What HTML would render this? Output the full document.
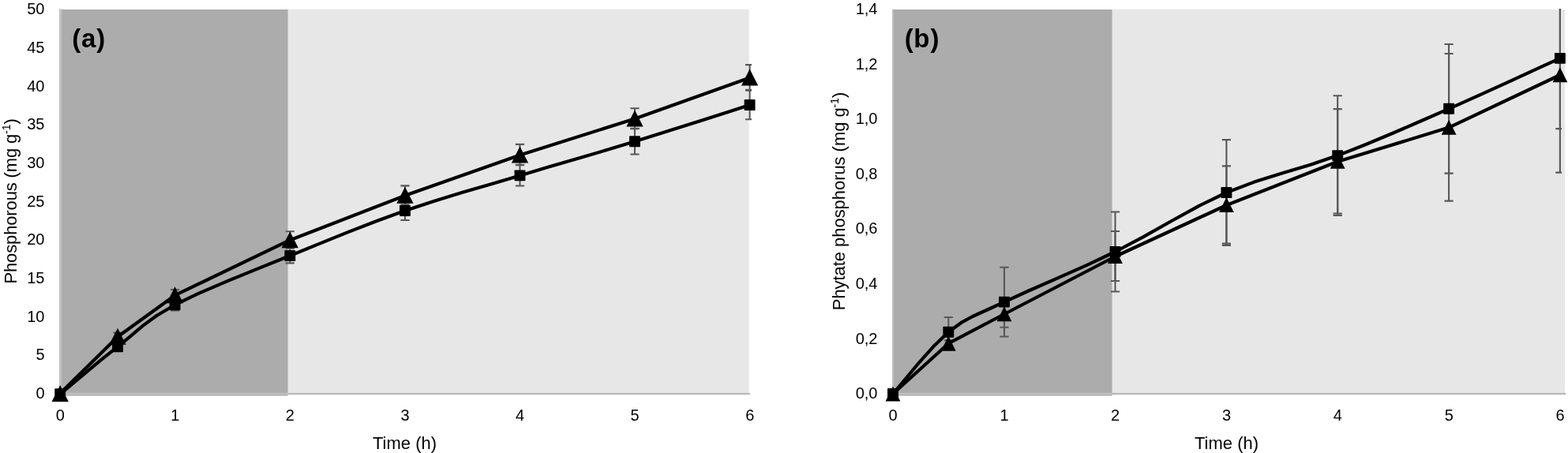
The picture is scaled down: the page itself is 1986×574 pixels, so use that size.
<!DOCTYPE html>
<html lang="en"><head><meta charset="utf-8"><title>Phosphorous and phytate phosphorus release over time</title>
<style>html,body{margin:0;padding:0;background:#fff}body{width:1986px;height:574px;overflow:hidden}svg{display:block}text{font-family:"Liberation Sans", Arial, Helvetica, sans-serif;fill:#000}</style>
</head><body>
<svg width="1986" height="574" viewBox="0 0 1986 574">
<rect width="1986" height="574" fill="#fff"/>
<g id="plot-a">
<rect x="364.65" y="498" width="584.1" height="3" fill="#f3f3f3"/>
<rect x="75.3" y="12" width="873.45" height="486" fill="#e7e7e7"/>
<rect x="75.3" y="12" width="289.35" height="489.5" fill="#acacac"/>
<rect x="364.65" y="497.85" width="585.3" height="2.2" fill="#bababa"/>
<rect x="75.3" y="497.85" width="289.35" height="2.2" fill="#c1c1c1"/>
<rect x="75.3" y="11.3" width="2.9" height="488.75" fill="#c1c1c1"/>
<clipPath id="clip-a"><rect x="65.3" y="11.1" width="886.7" height="506"/></clipPath>
<g clip-path="url(#clip-a)" stroke="#585858" stroke-width="2.1" fill="none">
<path d="M149 421.6V430.8M143.4 421.6H154.6M143.4 430.8H154.6"/>
<path d="M221.6 367V380.4M216 367H227.2M216 380.4H227.2"/>
<path d="M367.3 293.2V314.2M361.7 293.2H372.9M361.7 314.2H372.9"/>
<path d="M513 235.4V259.2M507.4 235.4H518.6M507.4 259.2H518.6"/>
<path d="M658.5 182.9V208.9M652.9 182.9H664.1M652.9 208.9H664.1"/>
<path d="M804 137.2V162.8M798.4 137.2H809.6M798.4 162.8H809.6"/>
<path d="M949.6 82.1V113.7M944 82.1H955.2M944 113.7H955.2"/>
<path d="M149 433.8V444.8M143.4 433.8H154.6M143.4 444.8H154.6"/>
<path d="M221.6 378.9V393.5M216 378.9H227.2M216 393.5H227.2"/>
<path d="M367.3 314.6V333.4M361.7 314.6H372.9M361.7 333.4H372.9"/>
<path d="M513 255V279M507.4 255H518.6M507.4 279H518.6"/>
<path d="M658.5 209.3V235.5M652.9 209.3H664.1M652.9 235.5H664.1"/>
<path d="M804 163.1V195.5M798.4 163.1H809.6M798.4 195.5H809.6"/>
<path d="M949.6 114.7V151.3M944 114.7H955.2M944 151.3H955.2"/>
</g>
<path d="M76.2 499.2 L89.29 488.28 L108.06 472.57 L129.11 455.2 L149 439.3 L165.45 425.76 L180.74 412.89 L198.31 399.96 L221.6 386.2 L252.89 371.17 L289.88 355.34 L329.16 339.4 L367.3 324 L403.73 309.09 L440.16 294.4 L476.59 280.26 L513 267 L549.39 254.94 L585.76 243.83 L622.13 233.15 L658.5 222.4 L694.87 211.59 L731.24 200.96 L767.62 190.26 L804 179.3 L843.81 166.86 L885.89 153.46 L923.44 141.39 L949.6 133" fill="none" stroke="#000" stroke-width="4.2" stroke-linejoin="round" stroke-linecap="round"/>
<path d="M76.2 498.5 L149 426.7 L221.6 374.2 L367.3 304.2 L513 247.8 L658.5 196.4 L804 150.5 L949.6 98.4" fill="none" stroke="#000" stroke-width="4.2" stroke-linejoin="round" stroke-linecap="round"/>
<rect x="69.25" y="492.25" width="13.9" height="13.9" rx="0.8" fill="#000"/>
<rect x="142.05" y="432.35" width="13.9" height="13.9" rx="0.8" fill="#000"/>
<rect x="214.65" y="379.25" width="13.9" height="13.9" rx="0.8" fill="#000"/>
<rect x="360.35" y="317.05" width="13.9" height="13.9" rx="0.8" fill="#000"/>
<rect x="506.05" y="260.05" width="13.9" height="13.9" rx="0.8" fill="#000"/>
<rect x="651.55" y="215.45" width="13.9" height="13.9" rx="0.8" fill="#000"/>
<rect x="797.05" y="172.35" width="13.9" height="13.9" rx="0.8" fill="#000"/>
<rect x="942.65" y="126.05" width="13.9" height="13.9" rx="0.8" fill="#000"/>
<path d="M76.2 488L86.85 509L65.55 509Z" fill="#000"/>
<path d="M149 415.7L159.65 436.7L138.35 436.7Z" fill="#000"/>
<path d="M221.6 363.2L232.25 384.2L210.95 384.2Z" fill="#000"/>
<path d="M367.3 293.2L377.95 314.2L356.65 314.2Z" fill="#000"/>
<path d="M513 236.8L523.65 257.8L502.35 257.8Z" fill="#000"/>
<path d="M658.5 185.4L669.15 206.4L647.85 206.4Z" fill="#000"/>
<path d="M804 139.5L814.65 160.5L793.35 160.5Z" fill="#000"/>
<path d="M949.6 87.4L960.25 108.4L938.95 108.4Z" fill="#000"/>
</g>
<g id="plot-b">
<rect x="1408.6" y="498" width="573.5" height="3" fill="#f3f3f3"/>
<rect x="1130.2" y="12" width="851.9" height="486" fill="#e7e7e7"/>
<rect x="1130.2" y="12" width="278.4" height="489.5" fill="#acacac"/>
<rect x="1408.6" y="497.85" width="574.7" height="2.2" fill="#bababa"/>
<rect x="1130.2" y="497.85" width="278.4" height="2.2" fill="#c1c1c1"/>
<rect x="1130.2" y="11.7" width="1.8" height="488.35" fill="#c1c1c1"/>
<clipPath id="clip-b"><rect x="1120.2" y="11.1" width="857.9" height="506"/></clipPath>
<g clip-path="url(#clip-b)" stroke="#585858" stroke-width="2.1" fill="none">
<path d="M1201.3 431.2V439.2M1195.7 431.2H1206.9M1195.7 439.2H1206.9"/>
<path d="M1272 380.6V414.8M1266.4 380.6H1277.6M1266.4 414.8H1277.6"/>
<path d="M1412.5 293.05V355.95M1406.9 293.05H1418.1M1406.9 355.95H1418.1"/>
<path d="M1553.4 210.4V308.6M1547.8 210.4H1559M1547.8 308.6H1559"/>
<path d="M1694.2 138.15V270.45M1688.6 138.15H1699.8M1688.6 270.45H1699.8"/>
<path d="M1835.1 68V254.6M1829.5 68H1840.7M1829.5 254.6H1840.7"/>
<path d="M1975.9 -29.2V218.6M1970.3 -29.2H1981.5M1970.3 218.6H1981.5"/>
<path d="M1201.3 402V439.4M1195.7 402H1206.9M1195.7 439.4H1206.9"/>
<path d="M1272 338.7V426.5M1266.4 338.7H1277.6M1266.4 426.5H1277.6"/>
<path d="M1412.5 268.5V369.5M1406.9 268.5H1418.1M1406.9 369.5H1418.1"/>
<path d="M1553.4 177.15V310.85M1547.8 177.15H1559M1547.8 310.85H1559"/>
<path d="M1694.2 121.3V272.9M1688.6 121.3H1699.8M1688.6 272.9H1699.8"/>
<path d="M1835.1 56V219.6M1829.5 56H1840.7M1829.5 219.6H1840.7"/>
<path d="M1975.9 -15.45V163.15M1970.3 -15.45H1981.5M1970.3 163.15H1981.5"/>
</g>
<path d="M1131 499 L1143.62 483.99 L1161.73 462.23 L1182.05 439.28 L1201.3 420.7 L1217.31 408.95 L1232.26 400.73 L1249.41 392.98 L1272 382.6 L1302.21 368.76 L1337.86 353.11 L1375.71 336.3 L1412.5 319 L1447.7 300.39 L1482.93 280.46 L1518.17 261.04 L1553.4 244 L1588.6 230.59 L1623.8 219.57 L1659 209.04 L1694.2 197.1 L1729.42 183.26 L1764.65 168.52 L1799.88 153.24 L1835.1 137.8 L1873.61 120.64 L1914.31 102.12 L1950.6 85.45 L1975.9 73.85" fill="none" stroke="#000" stroke-width="4.2" stroke-linejoin="round" stroke-linecap="round"/>
<path d="M1131 499 L1201.3 435.2 L1272 398 L1412.5 325 L1553.4 260 L1694.2 204.8 L1835.1 161.6 L1975.9 95" fill="none" stroke="#000" stroke-width="4.2" stroke-linejoin="round" stroke-linecap="round"/>
<rect x="1124.05" y="492.05" width="13.9" height="13.9" rx="0.8" fill="#000"/>
<rect x="1194.35" y="413.75" width="13.9" height="13.9" rx="0.8" fill="#000"/>
<rect x="1265.05" y="375.65" width="13.9" height="13.9" rx="0.8" fill="#000"/>
<rect x="1405.55" y="312.05" width="13.9" height="13.9" rx="0.8" fill="#000"/>
<rect x="1546.45" y="237.05" width="13.9" height="13.9" rx="0.8" fill="#000"/>
<rect x="1687.25" y="190.15" width="13.9" height="13.9" rx="0.8" fill="#000"/>
<rect x="1828.15" y="130.85" width="13.9" height="13.9" rx="0.8" fill="#000"/>
<rect x="1968.95" y="66.9" width="13.9" height="13.9" rx="0.8" fill="#000"/>
<path d="M1131 489.5L1140.4 508.5L1121.6 508.5Z" fill="#000"/>
<path d="M1201.3 425.7L1210.7 444.7L1191.9 444.7Z" fill="#000"/>
<path d="M1272 388.2L1281.4 407.2L1262.6 407.2Z" fill="#000"/>
<path d="M1412.5 315L1421.9 334L1403.1 334Z" fill="#000"/>
<path d="M1553.4 250L1562.8 269L1544 269Z" fill="#000"/>
<path d="M1694.2 194.8L1703.6 213.8L1684.8 213.8Z" fill="#000"/>
<path d="M1835.1 151.8L1844.5 170.8L1825.7 170.8Z" fill="#000"/>
<path d="M1975.9 85.2L1985.3 104.2L1966.5 104.2Z" fill="#000"/>
</g>
<g font-size="20">
<text x="56.5" y="18.1" text-anchor="end">50</text>
<text x="56.5" y="66.81" text-anchor="end">45</text>
<text x="56.5" y="115.52" text-anchor="end">40</text>
<text x="56.5" y="164.23" text-anchor="end">35</text>
<text x="56.5" y="212.94" text-anchor="end">30</text>
<text x="56.5" y="261.65" text-anchor="end">25</text>
<text x="56.5" y="310.36" text-anchor="end">20</text>
<text x="56.5" y="359.07" text-anchor="end">15</text>
<text x="56.5" y="407.78" text-anchor="end">10</text>
<text x="56.5" y="456.49" text-anchor="end">5</text>
<text x="56.5" y="505.2" text-anchor="end">0</text>
<text x="76.3" y="533.3" text-anchor="middle">0</text>
<text x="221.7" y="533.3" text-anchor="middle">1</text>
<text x="367.4" y="533.3" text-anchor="middle">2</text>
<text x="513.1" y="533.3" text-anchor="middle">3</text>
<text x="658.6" y="533.3" text-anchor="middle">4</text>
<text x="804.1" y="533.3" text-anchor="middle">5</text>
<text x="949.7" y="533.3" text-anchor="middle">6</text>
<text x="1111.5" y="18" text-anchor="end">1,4</text>
<text x="1111.5" y="87.6" text-anchor="end">1,2</text>
<text x="1111.5" y="157.2" text-anchor="end">1,0</text>
<text x="1111.5" y="226.8" text-anchor="end">0,8</text>
<text x="1111.5" y="296.4" text-anchor="end">0,6</text>
<text x="1111.5" y="366" text-anchor="end">0,4</text>
<text x="1111.5" y="435.6" text-anchor="end">0,2</text>
<text x="1111.5" y="505.2" text-anchor="end">0,0</text>
<text x="1131.1" y="533.3" text-anchor="middle">0</text>
<text x="1272.1" y="533.3" text-anchor="middle">1</text>
<text x="1412.6" y="533.3" text-anchor="middle">2</text>
<text x="1553.5" y="533.3" text-anchor="middle">3</text>
<text x="1694.3" y="533.3" text-anchor="middle">4</text>
<text x="1835.2" y="533.3" text-anchor="middle">5</text>
<text x="1976" y="533.3" text-anchor="middle">6</text>
</g>
<g font-size="22">
<text x="512.5" y="568.6" text-anchor="middle">Time (h)</text>
<text x="1553.5" y="568.6" text-anchor="middle">Time (h)</text>
<text transform="translate(20.5 255) rotate(-90)" text-anchor="middle" letter-spacing="-0.13">Phosphorous (mg g<tspan font-size="14" dy="-8">-1</tspan><tspan dy="8">)</tspan></text>
<text transform="translate(1070 255) rotate(-90)" text-anchor="middle" letter-spacing="-0.05">Phytate phosphorus (mg g<tspan font-size="14" dy="-8">-1</tspan><tspan dy="8">)</tspan></text>
</g>
<g font-size="33" font-weight="bold">
<text x="91.3 103.1 122.3" y="59.9">(a)</text>
<text x="1145.7 1157.3 1178.5" y="59.9">(b)</text>
</g>
</svg>
</body></html>
